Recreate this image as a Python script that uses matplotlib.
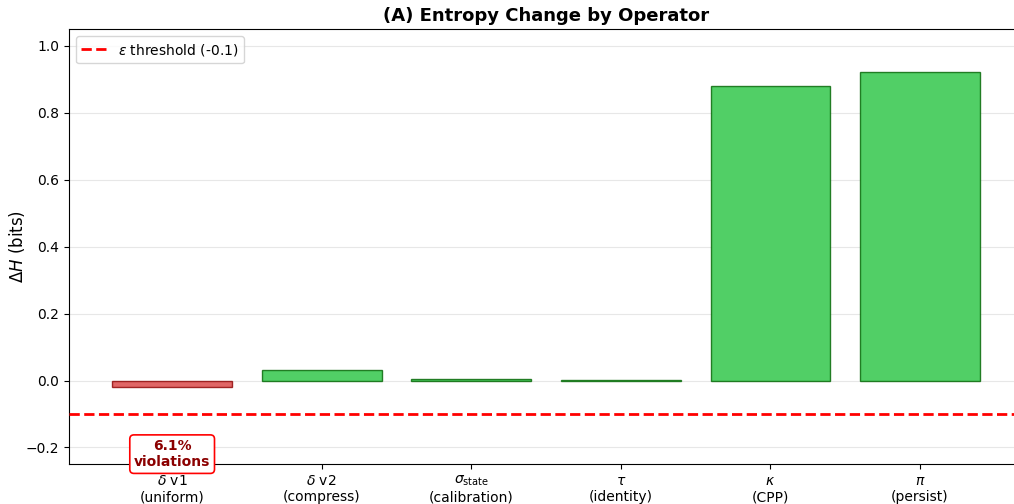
import matplotlib.pyplot as plt

# Entropy change per operator
operators = [r'$\delta$ v1' + '\n(uniform)', r'$\delta$ v2' + '\n(compress)',
             r'$\sigma_{\mathrm{state}}$' + '\n(calibration)', r'$\tau$' + '\n(identity)',
             r'$\kappa$' + '\n(CPP)', r'$\pi$' + '\n(persist)']
delta_h = [-0.018, 0.031, 0.005, 0.001, 0.880, 0.922]
epsilon = -0.1
violation_pct = 6.1

fig = plt.figure(figsize=(10.14, 5.04), dpi=100)
ax = fig.add_axes([0.068, 0.079, 0.941, 0.863])

colors = ['#e06666' if v < 0 else '#51cf66' for v in delta_h]
edges = [(0.55, 0.0, 0.0, 0.8) if v < 0 else (0.0, 0.39, 0.0, 0.8) for v in delta_h]
x = range(len(operators))
ax.bar(x, delta_h, width=0.8, color=colors, edgecolor=edges, linewidth=1.0, zorder=3)

ax.axhline(epsilon, color='red', linestyle='--', linewidth=2, label=r'$\epsilon$ threshold (-0.1)', zorder=4)

ax.text(0, -0.22, f'{violation_pct}%\nviolations', ha='center', va='center',
        fontsize=10, fontweight='bold', color='darkred', zorder=5,
        bbox=dict(boxstyle='round,pad=0.3', facecolor='white', edgecolor='red', linewidth=1.2))

ax.set_xticks(list(x))
ax.set_xticklabels(operators, fontsize=10)
ax.set_xlim(-0.69, 5.69)
ax.set_ylim(-0.25, 1.05)
ax.set_ylabel(r'$\Delta H$ (bits)', fontsize=12, labelpad=-1)
ax.set_title('(A) Entropy Change by Operator', fontsize=13, fontweight='bold')
ax.grid(axis='y', alpha=0.3, zorder=0)
ax.spines['right'].set_visible(False)
ax.legend(loc='upper left', fontsize=10, handlelength=1.8)

fig.savefig('out.png', dpi=100)
